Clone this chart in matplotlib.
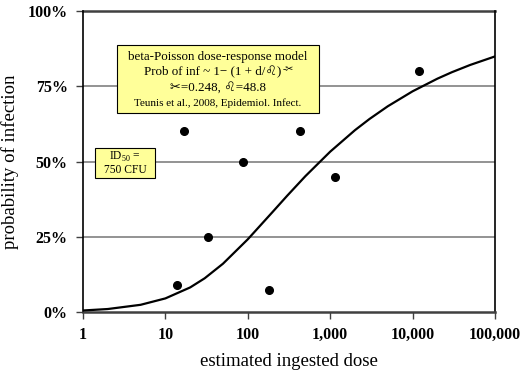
import matplotlib
matplotlib.use("Agg")
import matplotlib.pyplot as plt
from matplotlib.patches import Rectangle
from matplotlib.ticker import FixedLocator

# ---- data ----
obs_dose = [13.8, 16.8, 33, 88, 182, 430, 1150, 12000]
obs_prob = [0.09, 0.60, 0.25, 0.50, 0.073, 0.60, 0.45, 0.80]

model_dose = [1, 2, 5, 10, 20, 30, 50, 100, 200, 300, 500, 1000, 2000, 3000,
              5000, 10000, 20000, 30000, 50000, 100000]
model_prob = [0.0050, 0.0099, 0.0239, 0.0452, 0.0817, 0.1121, 0.1605, 0.2416,
              0.3324, 0.3860, 0.4513, 0.5327, 0.6042, 0.6413, 0.6835, 0.7332,
              0.7752, 0.7967, 0.8208, 0.8491]

x_ticks = [1, 10, 100, 1000, 10000, 100000]
x_labels = ["1", "10", "100", "1,000", "10,000", "100,000"]
y_ticks = [0, 0.25, 0.5, 0.75, 1.0]
y_labels = ["0%", "25%", "50%", "75%", "100%"]

W, H = 532, 375
SERIF = ["Liberation Serif", "DejaVu Serif"]
plt.rcParams["font.family"] = SERIF
plt.rcParams["mathtext.fontset"] = "custom"
plt.rcParams["mathtext.rm"] = "Liberation Serif"

fig = plt.figure(figsize=(W / 100, H / 100), dpi=100)
ax = fig.add_axes([83 / W, 1 - 312 / H, (495 - 83) / W, (312 - 11) / H])

ax.set_xscale("log")
ax.set_xlim(1, 100000)
ax.set_ylim(0, 1.0)

for yv in y_ticks[1:-1]:
    ax.axhline(yv, color="#808080", lw=1.2, zorder=1)
ax.axhline(1.0, color="#404040", lw=1.8, zorder=1, clip_on=False)

ax.plot(model_dose, model_prob, color="black", lw=1.6, zorder=3)
ax.plot(obs_dose, obs_prob, "o", color="black", ms=5.5, zorder=4)

ax.xaxis.set_major_locator(FixedLocator(x_ticks))
ax.xaxis.set_minor_locator(FixedLocator([]))
ax.set_xticklabels(x_labels)
ax.set_yticks(y_ticks)
ax.set_yticklabels(y_labels)
ax.tick_params(axis="both", which="major", direction="out", length=5,
               width=1.0, color="#404040", labelsize=11.5, pad=6)
for lab in ax.get_xticklabels() + ax.get_yticklabels():
    lab.set_fontweight("bold")

ax.spines["top"].set_visible(False)
for s in ["left", "right"]:
    ax.spines[s].set_color("black")
    ax.spines[s].set_linewidth(1.2)
ax.spines["bottom"].set_color("#404040")
ax.spines["bottom"].set_linewidth(1.8)

ax.set_xlabel("estimated ingested dose", fontsize=13.5, labelpad=7)
ax.set_ylabel("probability of infection", fontsize=13.5, labelpad=6)


def P(x, y):
    return (x / W, 1 - y / H)


SYM = SERIF + ["DejaVu Sans"]

# ---- annotation box 1 ----
fig.patches.append(Rectangle(P(117, 113), (319 - 117) / W, (113 - 45) / H,
                             transform=fig.transFigure, facecolor="#FFFF99",
                             edgecolor="black", lw=0.8, zorder=5))
cx = 218
fig.text(*P(cx, 57), "beta-Poisson dose-response model", ha="center",
         va="center", fontsize=9.4, zorder=6)
line2 = fig.text(*P(cx - 5, 72), "Prob of inf ~ 1\u2212 (1 + d/\u264C)", ha="center",
                 va="center", fontsize=9.4, zorder=6, family=SYM)
fig.canvas.draw()
bb = line2.get_window_extent()
fig.text(bb.x1 / W + 0.5 / W, (bb.y1 - 3) / H, "-\u2702", ha="left", va="center",
         fontsize=7, zorder=6, family=SYM)
fig.text(*P(cx, 88), "\u2702=0.248, \u264C=48.8", ha="center", va="center",
         fontsize=9.4, zorder=6, family=SYM)
fig.text(*P(cx, 103.5), "Teunis et al., 2008, Epidemiol. Infect.", ha="center",
         va="center", fontsize=8, zorder=6)

# ---- annotation box 2 ----
fig.patches.append(Rectangle(P(95, 178), (155 - 95) / W, (178 - 148) / H,
                             transform=fig.transFigure, facecolor="#FFFF99",
                             edgecolor="black", lw=0.8, zorder=5))
fig.text(*P(125, 157), r"ID$_{\mathrm{50}}$ =", ha="center", va="center",
         fontsize=8.3, zorder=6)
fig.text(*P(125, 170), "750 CFU", ha="center", va="center", fontsize=8.3, zorder=6)

fig.savefig("out.png", dpi=100)
